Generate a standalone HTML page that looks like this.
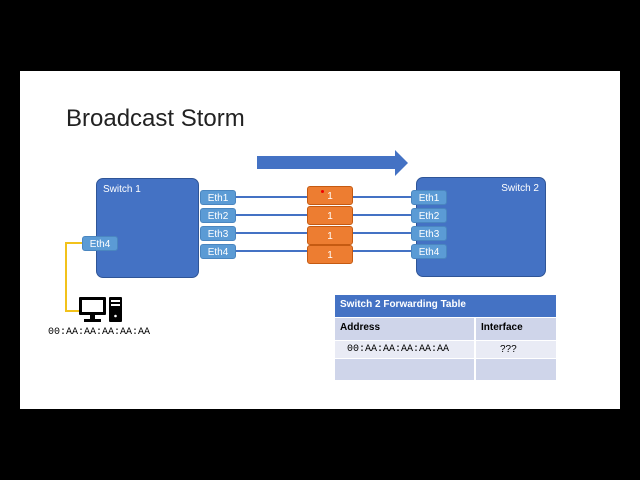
<!DOCTYPE html><html><head><style>
body{margin:0;width:640px;height:480px;background:#000;position:relative;overflow:hidden;font-family:"Liberation Sans",sans-serif}
.a{position:absolute}
.sw{background:#4472c4;border:1px solid #2f5597;border-radius:7px;color:#fff;font-size:10px;box-sizing:border-box}
.e{background:#5b9bd5;color:#fff;font-size:10px;border-radius:3px;width:36px;height:15px;line-height:15px;text-align:center;box-sizing:border-box;border:1px solid #4a86c0}
.o{background:#ed7d31;color:#fff;font-size:10px;border-radius:3px;width:46px;height:19px;line-height:19px;text-align:center;border:1px solid #c55a11;box-sizing:border-box}
.l{height:2px;background:#4472c4}
.t{font-size:10px;box-sizing:border-box;padding-left:5px}
</style></head><body>
<div class="a" style="left:20px;top:71px;width:600px;height:338px;background:#fff"></div>
<div class="a" style="left:66px;top:105px;font-size:24px;color:#222">Broadcast Storm</div>
<svg class="a" style="left:0;top:0" width="640" height="480"><polygon points="257,156 395,156 395,150 408,163 395,176 395,169 257,169" fill="#4472c4"/>
<polyline points="82,243 66,243 66,311 80,311" fill="none" stroke="#f2c21b" stroke-width="2"/>
<rect x="79" y="297" width="27" height="18" rx="1" fill="#000"/><rect x="82" y="300" width="21" height="12" fill="#fff"/><rect x="90" y="315" width="5" height="4" fill="#000"/><rect x="84" y="319" width="17" height="3" fill="#000"/>
<rect x="109" y="297" width="13" height="25" rx="1" fill="#000"/><rect x="111" y="300" width="9" height="2" fill="#fff"/><rect x="111" y="304" width="9" height="2" fill="#fff"/><circle cx="115.5" cy="316" r="1.3" fill="#fff"/></svg>
<div class="a sw" style="left:96px;top:178px;width:103px;height:100px;padding:5px 6px">Switch 1</div>
<div class="a sw" style="left:416px;top:177px;width:130px;height:100px;padding:5px 6px;text-align:right">Switch 2</div>
<div class="a l" style="left:236px;top:196px;width:176px"></div>
<div class="a l" style="left:236px;top:214px;width:176px"></div>
<div class="a l" style="left:236px;top:232px;width:176px"></div>
<div class="a l" style="left:236px;top:250px;width:176px"></div>
<div class="a e" style="left:200px;top:190px">Eth1</div><div class="a e" style="left:200px;top:208px">Eth2</div><div class="a e" style="left:200px;top:226px">Eth3</div><div class="a e" style="left:200px;top:244px">Eth4</div>
<div class="a e" style="left:411px;top:190px">Eth1</div><div class="a e" style="left:411px;top:208px">Eth2</div><div class="a e" style="left:411px;top:226px">Eth3</div><div class="a e" style="left:411px;top:244px">Eth4</div>
<div class="a e" style="left:82px;top:236px">Eth4</div>
<div class="a o" style="left:307px;top:186px">1</div><div class="a o" style="left:307px;top:206px">1</div><div class="a o" style="left:307px;top:226px">1</div><div class="a o" style="left:307px;top:245px">1</div>
<div class="a" style="left:321px;top:190px;width:3px;height:3px;border-radius:50%;background:#e00"></div>
<div class="a" style="left:48px;top:327px;font-family:'Liberation Mono',monospace;font-size:10px">00:AA:AA:AA:AA:AA</div>
<div class="a t" style="left:335px;top:295px;width:221px;height:22px;line-height:20px;background:#4472c4;color:#fff;font-weight:bold">Switch 2 Forwarding Table</div>
<div class="a t" style="left:335px;top:318px;width:139px;height:22px;line-height:20px;background:#cfd5ea;font-weight:bold">Address</div>
<div class="a t" style="left:476px;top:318px;width:80px;height:22px;line-height:20px;background:#cfd5ea;font-weight:bold">Interface</div>
<div class="a t" style="left:335px;top:341px;width:139px;height:17px;line-height:17px;background:#e9ebf5;font-family:'Liberation Mono',monospace;padding-left:12px">00:AA:AA:AA:AA:AA</div>
<div class="a t" style="left:476px;top:341px;width:80px;height:17px;line-height:17px;background:#e9ebf5;padding-left:24px">???</div>
<div class="a" style="left:335px;top:359px;width:139px;height:21px;background:#cfd5ea"></div>
<div class="a" style="left:476px;top:359px;width:80px;height:21px;background:#cfd5ea"></div>
</body></html>
